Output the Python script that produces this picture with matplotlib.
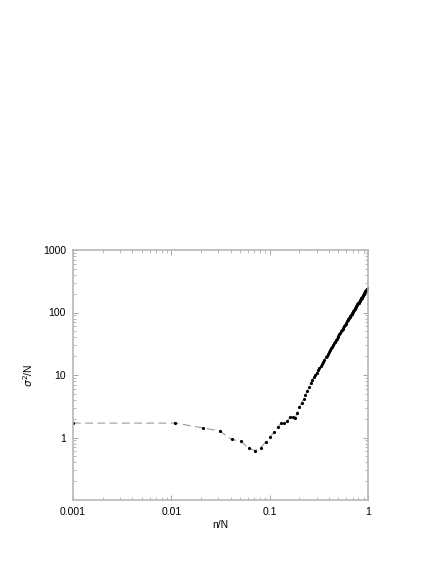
import matplotlib
matplotlib.use("Agg")
import matplotlib.pyplot as plt
from matplotlib.ticker import FixedLocator, FixedFormatter, LogLocator, NullFormatter

plt.rcParams["font.family"] = ["Liberation Sans", "DejaVu Sans"]

# n/N sample fractions
n_frac = [
    0.001, 0.011, 0.021, 0.031, 0.041, 0.051, 0.061, 0.071, 0.081, 0.091,
    0.101, 0.111, 0.121, 0.131, 0.141, 0.151, 0.161, 0.171, 0.181, 0.191,
    0.201, 0.211, 0.221, 0.231, 0.241, 0.251, 0.261, 0.271, 0.281, 0.291,
    0.301, 0.311, 0.321, 0.331, 0.341, 0.351, 0.361, 0.371, 0.381, 0.391,
    0.401, 0.411, 0.421, 0.431, 0.441, 0.451, 0.461, 0.471, 0.481, 0.491,
    0.501, 0.511, 0.521, 0.531, 0.541, 0.551, 0.561, 0.571, 0.581, 0.591,
    0.601, 0.611, 0.621, 0.631, 0.641, 0.651, 0.661, 0.671, 0.681, 0.691,
    0.701, 0.711, 0.721, 0.731, 0.741, 0.751, 0.761, 0.771, 0.781, 0.791,
    0.801, 0.811, 0.821, 0.831, 0.841, 0.851, 0.861, 0.871, 0.881, 0.891,
    0.901, 0.911, 0.921, 0.931, 0.941, 0.951, 0.961, 0.971, 0.981, 0.991,
]

# sigma^2 / N
variance = [
    1.70, 1.70, 1.42, 1.27, 0.935, 0.87, 0.68, 0.615, 0.687, 0.847,
    1.02, 1.22, 1.47, 1.71, 1.69, 1.82, 2.13, 2.15, 2.03, 2.50,
    3.04, 3.60, 4.08, 4.79, 5.55, 6.43, 7.45, 8.40, 9.20, 10.0,
    10.9, 11.85, 12.84, 13.96, 15.15, 16.39, 17.69, 19.06, 20.48, 21.98,
    23.52, 25.13, 26.83, 28.57, 30.37, 32.26, 34.20, 36.22, 38.28, 40.45,
    42.66, 44.96, 47.31, 49.77, 52.27, 54.87, 57.52, 60.22, 63.04, 65.92,
    68.88, 71.88, 75.01, 78.16, 81.47, 84.78, 88.19, 91.67, 95.23, 98.93,
    102.6, 106.5, 110.4, 114.3, 118.4, 122.5, 126.8, 131.1, 135.5, 139.9,
    144.4, 149.1, 153.8, 158.6, 163.6, 168.5, 173.6, 178.7, 183.9, 189.3,
    194.7, 200.1, 205.8, 211.3, 217.2, 223.1, 228.9, 235.0, 241.1, 247.3,
]

x_ticks = [0.001, 0.01, 0.1, 1]
x_labels = ["0.001", "0.01", "0.1", "1"]
y_ticks = [1, 10, 100, 1000]
y_labels = ["1", "10", "100", "1000"]

fig = plt.figure(figsize=(4.36, 5.64), dpi=100)
ax = fig.add_axes([73 / 436, 1 - 500 / 564, 295 / 436, 250 / 564])

ax.plot(n_frac, variance, color="#9a9a9a", lw=0.8, dashes=(7, 4), zorder=1)
ax.plot(n_frac, variance, "o", color="black", ms=2.3, mew=0, zorder=2)

ax.set_xscale("log")
ax.set_yscale("log")
ax.set_xlim(0.001, 1)
ax.set_ylim(0.1, 1000)

ax.xaxis.set_major_locator(FixedLocator(x_ticks))
ax.xaxis.set_major_formatter(FixedFormatter(x_labels))
ax.yaxis.set_major_locator(FixedLocator(y_ticks))
ax.yaxis.set_major_formatter(FixedFormatter(y_labels))
ax.xaxis.set_minor_locator(LogLocator(base=10, subs=range(2, 10), numticks=20))
ax.yaxis.set_minor_locator(LogLocator(base=10, subs=range(2, 10), numticks=20))
ax.xaxis.set_minor_formatter(NullFormatter())
ax.yaxis.set_minor_formatter(NullFormatter())

for s in ax.spines.values():
    s.set_color("#b8b8b8")
    s.set_linewidth(1.2)

ax.tick_params(which="both", direction="in", top=True, right=True,
               color="#999999", labelsize=7.5, labelcolor="black")
ax.tick_params(which="major", length=3.5, width=0.6, pad=5)
ax.tick_params(which="minor", length=2, width=0.5)

ax.set_xlabel("n/N", fontsize=7.5, labelpad=2)
ax.set_ylabel(r"$\sigma^2$/N", fontsize=7.5, labelpad=6)

fig.savefig("out.png", dpi=100)
